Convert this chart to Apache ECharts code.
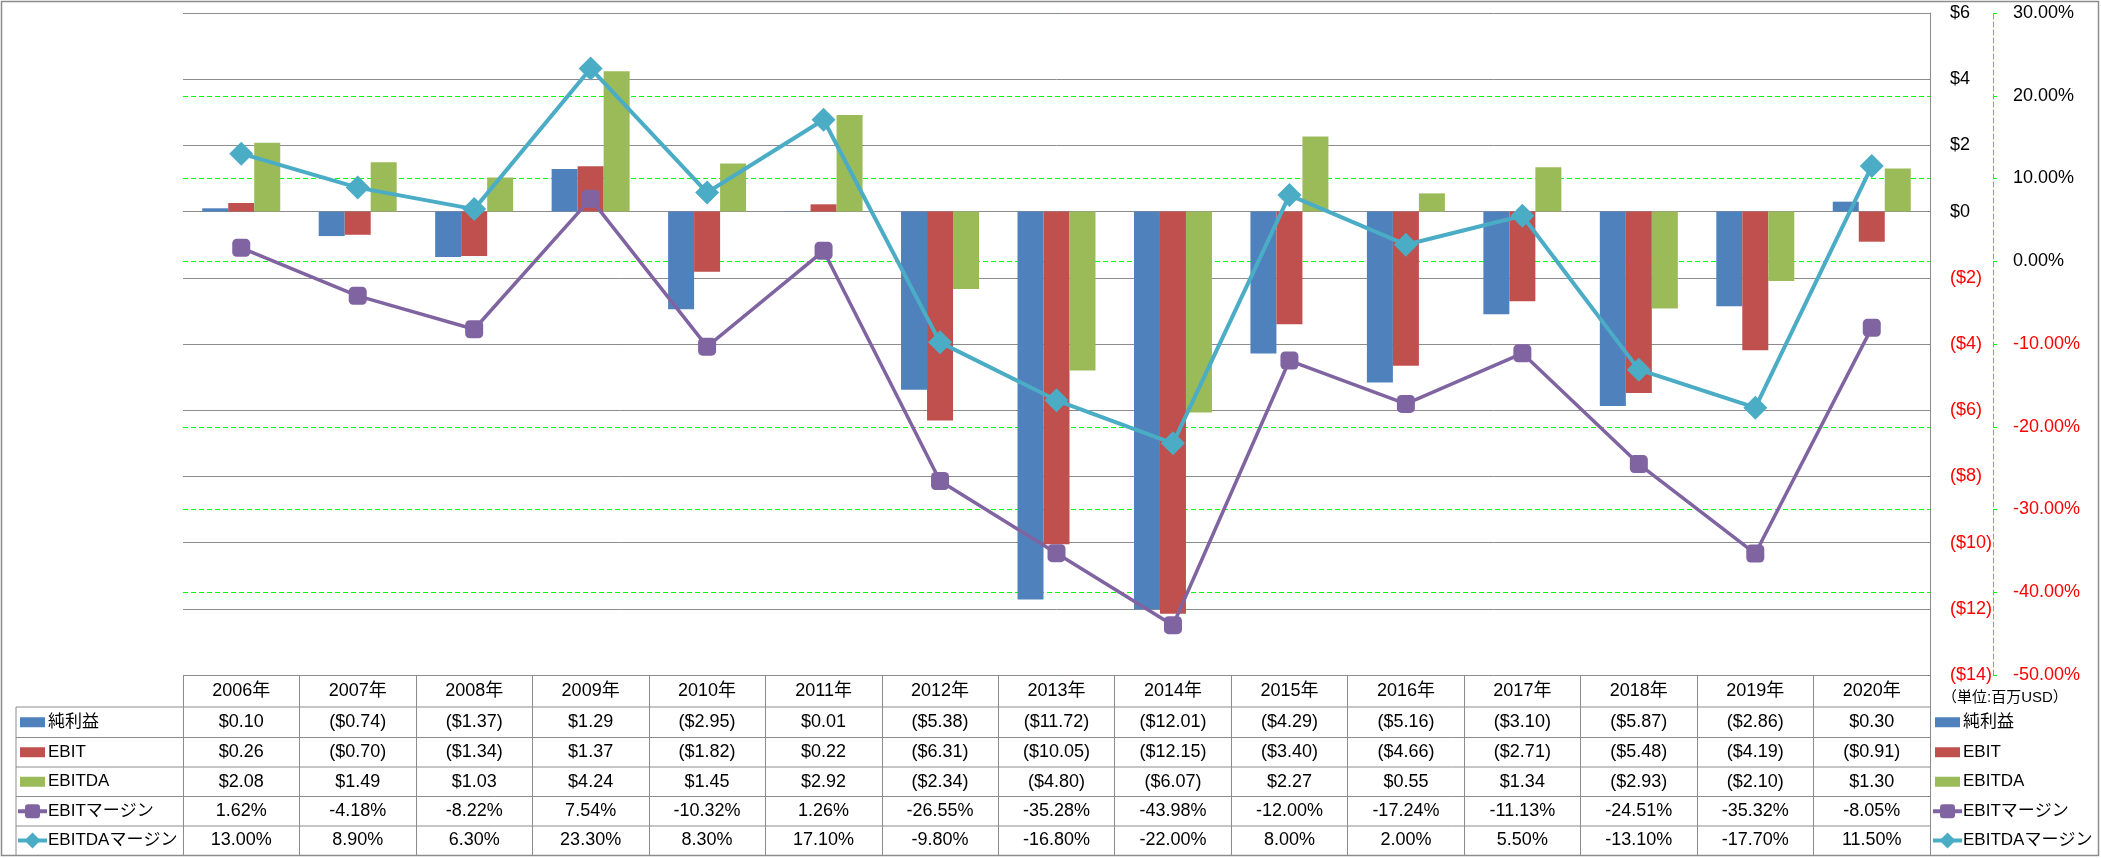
<!DOCTYPE html>
<html>
<head>
<meta charset="utf-8">
<script src="https://cdn.jsdelivr.net/npm/echarts@6/dist/echarts.min.js"></script>
<style>
  html, body { margin: 0; padding: 0; background: #fff; }
  #chart { width: 2101px; height: 858px; }
</style>
</head>
<body>
<div id="chart"></div>
<script>
// data (百万USD / %)
const years = ['2006年', '2007年', '2008年', '2009年', '2010年', '2011年', '2012年', '2013年',
  '2014年', '2015年', '2016年', '2017年', '2018年', '2019年', '2020年']
const netIncome = [0.10, -0.74, -1.37, 1.29, -2.95, 0.01, -5.38, -11.72, -12.01, -4.29, -5.16, -3.10, -5.87, -2.86, 0.30]
const ebit = [0.26, -0.70, -1.34, 1.37, -1.82, 0.22, -6.31, -10.05, -12.15, -3.40, -4.66, -2.71, -5.48, -4.19, -0.91]
const ebitda = [2.08, 1.49, 1.03, 4.24, 1.45, 2.92, -2.34, -4.80, -6.07, 2.27, 0.55, 1.34, -2.93, -2.10, 1.30]
const ebitMargin = [1.62, -4.18, -8.22, 7.54, -10.32, 1.26, -26.55, -35.28, -43.98, -12.00, -17.24, -11.13, -24.51, -35.32, -8.05]
const ebitdaMargin = [13.00, 8.90, 6.30, 23.30, 8.30, 17.10, -9.80, -16.80, -22.00, 8.00, 2.00, 5.50, -13.10, -17.70, 11.50]

const FONT = '"Liberation Sans", "Noto Sans CJK JP", sans-serif'
const GRAY = '#8c8c8c'
const GREEN = '#00ff00'
const RED = '#ff0000'
const FS = 18

const colors = {
  net: '#4f81bd',
  ebit: '#c0504d',
  ebitda: '#9bbb59',
  ebitM: '#8064a2',
  ebitdaM: '#4bacc6',
}

// layout
const plotLeft = 183
const plotRight = 1930
const plotTop = 13
const plotBottom = 675
const rowLines = [675, 707, 737.5, 767, 796.5, 826, 855]
const rowCenter = i => (rowLines[i] + rowLines[i + 1]) / 2
const LH = 20

const money = v => (v < 0 ? '($' + Math.abs(v).toFixed(2) + ')' : '$' + v.toFixed(2))
const pct = v => v.toFixed(2) + '%'

const rows = [
  { name: '純利益', kind: 'bar', color: colors.net, text: netIncome.map(money) },
  { name: 'EBIT', kind: 'bar', color: colors.ebit, text: ebit.map(money) },
  { name: 'EBITDA', kind: 'bar', color: colors.ebitda, text: ebitda.map(money) },
  { name: 'EBITマージン', kind: 'square', color: colors.ebitM, text: ebitMargin.map(pct) },
  { name: 'EBITDAマージン', kind: 'diamond', color: colors.ebitdaM, text: ebitdaMargin.map(pct) },
]

function keyShape(x, cy, kind, color) {
  if (kind === 'bar') {
    return [{ type: 'rect', shape: { x: x + 2, y: cy - 5, width: 25, height: 10 }, style: { fill: color } }]
  }
  const out = [{
    type: 'line', shape: { x1: x, y1: cy, x2: x + 29, y2: cy },
    style: { stroke: color, lineWidth: 4 },
  }]
  if (kind === 'square') {
    out.push({ type: 'rect', shape: { x: x + 7, y: cy - 7, width: 15, height: 14, r: 3 }, style: { fill: color } })
  } else {
    out.push({
      type: 'polygon',
      shape: { points: [[x + 14.5, cy - 8], [x + 22.5, cy], [x + 14.5, cy + 8], [x + 6.5, cy]] },
      style: { fill: color },
    })
  }
  return out
}

const graphics = []
// outer frame
graphics.push({
  type: 'rect', z: 0,
  shape: { x: 1.5, y: 1.5, width: 2097, height: 854 },
  style: { fill: 'none', stroke: GRAY, lineWidth: 1.5 },
})
// table lines
rowLines.slice(1, 6).forEach(y => {
  graphics.push({
    type: 'line', shape: { x1: 16, y1: y, x2: plotRight, y2: y },
    style: { stroke: GRAY, lineWidth: 1 },
  })
})
graphics.push({
  type: 'line', shape: { x1: 16, y1: rowLines[1], x2: 16, y2: 855 },
  style: { stroke: GRAY, lineWidth: 1 },
})
// legend inside table + legend at right
rows.forEach((r, i) => {
  const cy = rowCenter(i + 1)
  keyShape(18, cy, r.kind, r.color).forEach(g => graphics.push(g))
  graphics.push({
    type: 'text', x: 48, y: cy,
    style: { text: r.name, font: '17px ' + FONT, fill: '#000', verticalAlign: 'middle' },
  })
  keyShape(1933, cy, r.kind, r.color).forEach(g => graphics.push(g))
  graphics.push({
    type: 'text', x: 1963, y: cy,
    style: { text: r.name, font: '17px ' + FONT, fill: '#000', verticalAlign: 'middle' },
  })
})
graphics.push({
  type: 'text', x: 1942, y: rowCenter(0) + 7,
  style: { text: '（単位:百万USD）', font: '15px ' + FONT, fill: '#000', verticalAlign: 'middle' },
})

// table text rows drawn as extra category axes under the grid
const rowAxes = rows.map((r, i) => ({
  type: 'category',
  gridIndex: 0,
  position: 'bottom',
  data: r.text,
  axisLine: { show: false, onZero: false },
  axisTick: { show: false },
  axisLabel: {
    interval: 0,
    margin: rowCenter(i + 1) - plotBottom - LH / 2,
    color: '#000',
    fontFamily: FONT,
    fontSize: FS,
    lineHeight: LH,
  },
  splitLine: { show: false },
}))

const chart = echarts.init(document.getElementById('chart'))

chart.setOption({
  animation: false,
  backgroundColor: '#fff',
  textStyle: { fontFamily: FONT },
  grid: {
    left: plotLeft,
    right: 2101 - plotRight,
    top: plotTop,
    bottom: 858 - plotBottom,
    containLabel: false,
  },
  xAxis: [
    {
      type: 'category',
      data: years,
      position: 'bottom',
      axisLine: { show: false, onZero: false },
      axisTick: { show: true, interval: 0, length: 855 - plotBottom, lineStyle: { color: GRAY, width: 1 } },
      axisLabel: {
        interval: 0,
        margin: rowCenter(0) - plotBottom - LH / 2,
        color: '#000',
        fontFamily: FONT,
        fontSize: FS,
        lineHeight: LH,
      },
      splitLine: { show: false },
    },
    ...rowAxes,
  ],
  yAxis: [
    {
      type: 'value',
      position: 'right',
      min: -14,
      max: 6,
      interval: 2,
      z: 1,
      axisLine: { show: true, lineStyle: { color: GRAY, width: 1 } },
      axisTick: { show: false },
      axisLabel: {
        margin: 20,
        fontFamily: FONT,
        fontSize: FS,
        formatter: v => (v < 0 ? '($' + Math.abs(v) + ')' : '$' + v),
        color: v => (Number(v) < 0 ? RED : '#000'),
      },
      splitLine: { show: true, lineStyle: { color: GRAY, width: 1 } },
    },
    {
      type: 'value',
      position: 'right',
      offset: 63,
      min: -50,
      max: 30,
      interval: 10,
      z: 0,
      axisLine: { show: true, lineStyle: { color: GREEN, width: 1, type: [5, 3] } },
      axisTick: { show: true, length: 4, lineStyle: { color: GREEN, width: 1 } },
      axisLabel: {
        margin: 20,
        fontFamily: FONT,
        fontSize: FS,
        formatter: v => v.toFixed(2) + '%',
        color: v => (Number(v) < 0 ? RED : '#000'),
      },
      splitLine: { show: true, lineStyle: { color: GREEN, width: 1, type: [5, 3] } },
    },
  ],
  graphic: graphics,
  series: [
    {
      name: '純利益', type: 'bar', xAxisIndex: 0, yAxisIndex: 0, data: netIncome,
      barWidth: 26, barGap: '0%', itemStyle: { color: colors.net }, z: 3,
    },
    {
      name: 'EBIT', type: 'bar', xAxisIndex: 0, yAxisIndex: 0, data: ebit,
      barWidth: 26, barGap: '0%', itemStyle: { color: colors.ebit }, z: 3,
    },
    {
      name: 'EBITDA', type: 'bar', xAxisIndex: 0, yAxisIndex: 0, data: ebitda,
      barWidth: 26, barGap: '0%', itemStyle: { color: colors.ebitda }, z: 3,
    },
    {
      name: 'EBITマージン', type: 'line', xAxisIndex: 0, yAxisIndex: 1, data: ebitMargin,
      symbol: 'roundRect', symbolSize: 18,
      lineStyle: { color: colors.ebitM, width: 3.5 },
      itemStyle: { color: colors.ebitM },
      z: 5,
    },
    {
      name: 'EBITDAマージン', type: 'line', xAxisIndex: 0, yAxisIndex: 1, data: ebitdaMargin,
      symbol: 'diamond', symbolSize: 24,
      lineStyle: { color: colors.ebitdaM, width: 4 },
      itemStyle: { color: colors.ebitdaM },
      z: 6,
    },
  ],
})
</script>
</body>
</html>
